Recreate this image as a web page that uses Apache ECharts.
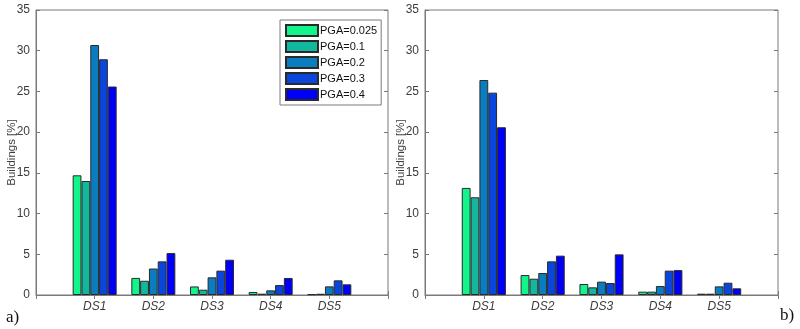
<!DOCTYPE html>
<html>
<head>
<meta charset="utf-8">
<script src="https://cdn.jsdelivr.net/npm/echarts@6/dist/echarts.min.js"></script>
<style>
  html, body { margin: 0; padding: 0; background: #fff; }
  #chart { width: 800px; height: 329px; }
</style>
</head>
<body>
<div id="chart"></div>
<script>
// Damage states on the x axis
const categories = ['DS1', 'DS2', 'DS3', 'DS4', 'DS5'];
// Seismic intensity levels (one bar series per level)
const pgaLevels = ['PGA=0.025', 'PGA=0.1', 'PGA=0.2', 'PGA=0.3', 'PGA=0.4'];
const yTicks = [0, 5, 10, 15, 20, 25, 30, 35];

// Panel a): share of buildings [%] per damage state, one array per PGA level
const panelA_pga0025 = [14.7, 2.1, 1.05, 0.37, 0.1];
const panelA_pga01   = [14.0, 1.75, 0.65, 0.16, 0.15];
const panelA_pga02   = [30.7, 3.25, 2.17, 0.57, 1.06];
const panelA_pga03   = [28.95, 4.13, 2.99, 1.22, 1.8];
const panelA_pga04   = [25.6, 5.15, 4.33, 2.09, 1.31];

// Panel b)
const panelB_pga0025 = [13.15, 2.45, 1.35, 0.41, 0.16];
const panelB_pga01   = [12.0, 2.0, 0.94, 0.41, 0.16];
const panelB_pga02   = [26.4, 2.7, 1.64, 1.1, 1.06];
const panelB_pga03   = [24.85, 4.13, 1.47, 2.99, 1.51];
const panelB_pga04   = [20.6, 4.83, 4.99, 3.06, 0.82];

const panelA = [panelA_pga0025, panelA_pga01, panelA_pga02, panelA_pga03, panelA_pga04];
const panelB = [panelB_pga0025, panelB_pga01, panelB_pga02, panelB_pga03, panelB_pga04];

const barColors = ['#12f58a', '#12b89e', '#0a7cc0', '#0a46dc', '#0000f8'];
const axisGray = '#7a7a7a';
const textGray = '#3c3c3c';
const fontFamily = '"Liberation Sans", Arial, sans-serif';

// Padded category list so groups sit at 1..5 on a 0..6 range
const axisCats = [''].concat(categories, ['']);
const pad = v => [null].concat(v, [null]);

const chart = echarts.init(document.getElementById('chart'), null, { renderer: 'canvas' });

const grids = [
  { left: 36, right: 412, top: 10, bottom: 34, show: true, borderColor: axisGray, borderWidth: 1, backgroundColor: 'transparent' },
  { left: 425, right: 22, top: 10, bottom: 34, show: true, borderColor: axisGray, borderWidth: 1, backgroundColor: 'transparent' }
];

const xAxes = [];
const yAxes = [];
[0, 1].forEach(g => {
  // bottom category axis with labels
  xAxes.push({
    type: 'category', gridIndex: g, data: axisCats, boundaryGap: false,
    axisLine: { lineStyle: { color: axisGray } },
    axisTick: { inside: true, length: 4, lineStyle: { color: axisGray } },
    axisLabel: { color: textGray, fontFamily, fontSize: 12, fontStyle: 'italic', margin: 6 },
    splitLine: { show: false }
  });
  // top axis for inward ticks
  xAxes.push({
    type: 'category', gridIndex: g, position: 'top', data: axisCats, boundaryGap: false,
    axisLine: { show: false },
    axisTick: { inside: true, length: 4, lineStyle: { color: axisGray } },
    axisLabel: { show: false },
    splitLine: { show: false }
  });
  yAxes.push({
    type: 'value', gridIndex: g, min: 0, max: 35, interval: 5,
    name: 'Buildings [%]', nameLocation: 'middle', nameGap: 18, nameMoveOverlap: false,
    nameTextStyle: { color: textGray, fontFamily, fontSize: 11.5 },
    axisLine: { show: true, lineStyle: { color: axisGray } },
    axisTick: { show: true, inside: true, length: 4, lineStyle: { color: axisGray } },
    axisLabel: { color: textGray, fontFamily, fontSize: 12, margin: 6,
      formatter: v => yTicks.indexOf(v) >= 0 ? String(v) : '' },
    splitLine: { show: false }
  });
  yAxes.push({
    type: 'value', gridIndex: g, position: 'right', min: 0, max: 35, interval: 5,
    axisLine: { show: false },
    axisTick: { show: true, inside: true, length: 4, lineStyle: { color: axisGray } },
    axisLabel: { show: false },
    splitLine: { show: false }
  });
});

const series = [];
[panelA, panelB].forEach((panel, g) => {
  panel.forEach((vals, i) => {
    series.push({
      name: pgaLevels[i], type: 'bar',
      xAxisIndex: g * 2, yAxisIndex: g * 2,
      data: pad(vals),
      barGap: '0%', barCategoryGap: '25%',
      itemStyle: { color: barColors[i], borderColor: '#2a2a2a', borderWidth: 1 },
      emphasis: { disabled: true }
    });
  });
});

chart.setOption({
  animation: false,
  backgroundColor: '#ffffff',
  grid: grids,
  xAxis: xAxes,
  yAxis: yAxes,
  legend: {
    data: pgaLevels.map(n => ({ name: n, icon: 'rect' })),
    orient: 'vertical', left: 280, top: 20,
    itemWidth: 32, itemHeight: 11, itemGap: 3,
    padding: [4, 4, 4, 5],
    borderColor: axisGray, borderWidth: 1, backgroundColor: '#fff',
    selectedMode: false,
    textStyle: { color: '#111', fontFamily, fontSize: 11, padding: [0, 0, 0, -3] }
  },
  graphic: [
    { type: 'text', left: 6, top: 309, style: { text: 'a)', font: '17px "Liberation Serif", "Times New Roman", serif', fill: '#111' } },
    { type: 'text', left: 780, top: 307, style: { text: 'b)', font: '17px "Liberation Serif", "Times New Roman", serif', fill: '#111' } }
  ],
  series
});
</script>
</body>
</html>
